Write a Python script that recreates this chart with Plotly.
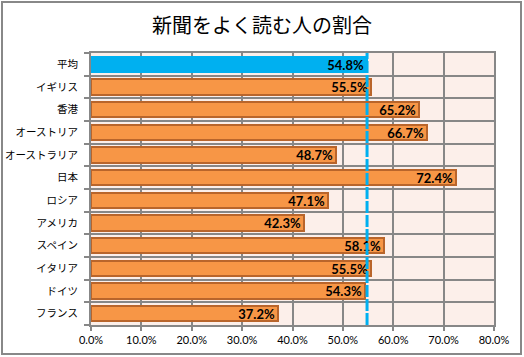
import plotly.graph_objects as go

categories = ["平均", "イギリス", "香港", "オーストリア", "オーストラリア", "日本",
              "ロシア", "アメリカ", "スペイン", "イタリア", "ドイツ", "フランス"]
values = [54.8, 55.5, 65.2, 66.7, 48.7, 72.4, 47.1, 42.3, 58.1, 55.5, 54.3, 37.2]
average_value = 54.8
title_text = "新聞をよく読む人の割合"
x_ticks = [0, 10, 20, 30, 40, 50, 60, 70, 80]

W, H = 524, 357
ml, mr, mt, mb = 91, 30, 53, 32

n = len(categories)
ypos = list(range(n))
fill = ["#00B0F0"] + ["#F79646"] * (n - 1)
edge = ["#00B0F0"] + ["#B9652B"] * (n - 1)

fig = go.Figure()
fig.add_trace(go.Bar(
    x=values, y=ypos, orientation="h", width=0.68,
    marker=dict(color=fill, line=dict(color=edge, width=2)),
    text=[f"{v:.1f}%" for v in values],
    textposition="inside", insidetextanchor="end",
    textfont=dict(family="Lato, Liberation Sans, sans-serif", size=13, color="black", weight="bold"),
    constraintext="none", cliponaxis=False,
))

fig.add_shape(type="line", xref="x", yref="paper", x0=average_value, x1=average_value,
              y0=0, y1=1, line=dict(color="#00B0F0", width=3, dash="12px,2px"), layer="above")

pw = W - ml - mr
ph = H - mt - mb
fig.add_shape(type="rect", xref="paper", yref="paper",
              x0=(2 - ml) / pw, x1=(W - 3 - ml) / pw,
              y0=-(mb - 3) / ph, y1=1 + (mt - 2) / ph,
              line=dict(color="#888888", width=2), layer="below")

fig.update_layout(
    width=W, height=H,
    margin=dict(l=ml, r=mr, t=mt, b=mb, autoexpand=False),
    paper_bgcolor="white", plot_bgcolor="#FCEFEA",
    showlegend=False, bargap=0,
    title=dict(text=title_text, x=0.5, xref="container", xanchor="center", y=1 - 26 / H, yanchor="middle",
               font=dict(family="Noto Sans CJK JP", size=20, color="black"), automargin=False),
    font=dict(family="Noto Sans CJK JP", color="black"),
)
fig.update_xaxes(range=[0, 80], tickvals=x_ticks, ticktext=[f"{t:.1f}%" for t in x_ticks],
                 showgrid=True, gridcolor="#878787", gridwidth=2,
                 showline=True, linecolor="#878787", linewidth=2, mirror=True,
                 ticks="outside", ticklen=4, tickcolor="#878787", tickwidth=2,
                 tickfont=dict(family="Lato, Liberation Sans, sans-serif", size=11, color="black"),
                 zeroline=False, fixedrange=True, automargin=False)
fig.update_yaxes(range=[n - 0.5, -0.5], tickvals=ypos, ticktext=categories,
                 showgrid=False, ticks="", ticklabelstandoff=9,
                 minor=dict(tickmode="linear", tick0=-0.5, dtick=1, showgrid=True,
                            gridcolor="#878787", gridwidth=2, ticks="outside", ticklen=5,
                            tickcolor="#878787", tickwidth=2),
                 showline=True, linecolor="#878787", linewidth=2, mirror=True,
                 tickfont=dict(family="Noto Sans CJK JP", size=10.5, color="black"),
                 zeroline=False, fixedrange=True, automargin=False)

fig.write_html("out.html", config={"displayModeBar": False},
               post_script="document.body.style.margin='0';document.body.style.padding='0';")
